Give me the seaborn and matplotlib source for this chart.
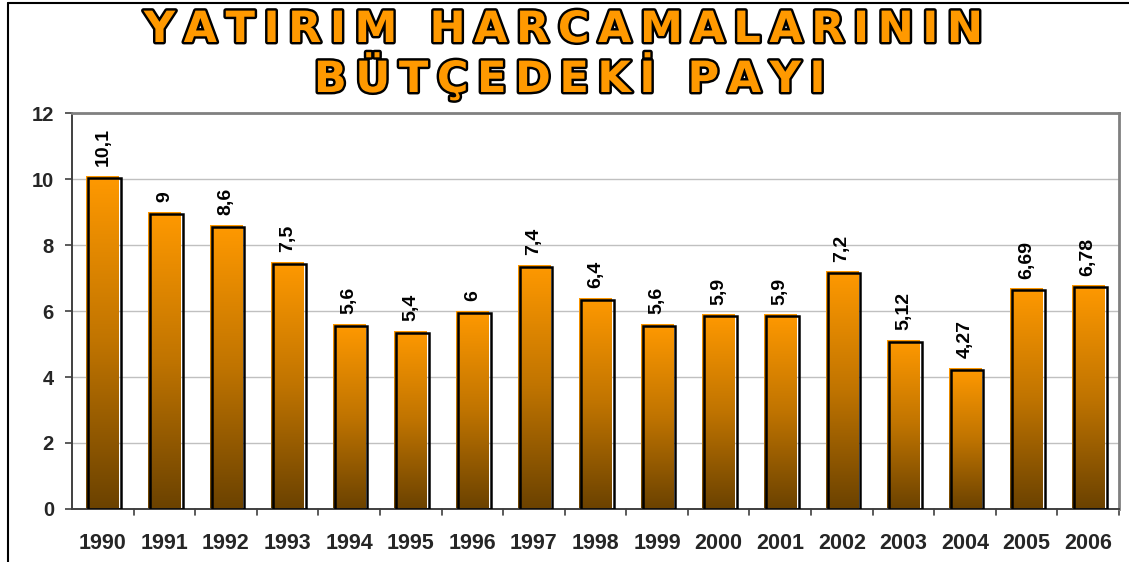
import numpy as np
import pandas as pd
import matplotlib
matplotlib.use("Agg")
import matplotlib.pyplot as plt
import matplotlib.patheffects as pe
from matplotlib.colors import LinearSegmentedColormap
from matplotlib.patches import Rectangle
from matplotlib.lines import Line2D
import seaborn as sns

# --- Data ---
years = ["1990", "1991", "1992", "1993", "1994", "1995", "1996", "1997", "1998",
         "1999", "2000", "2001", "2002", "2003", "2004", "2005", "2006"]
shares = [10.1, 9, 8.6, 7.5, 5.6, 5.4, 6, 7.4, 6.4, 5.6, 5.9, 5.9, 7.2, 5.12, 4.27, 6.69, 6.78]
value_labels = ["10,1", "9", "8,6", "7,5", "5,6", "5,4", "6", "7,4", "6,4", "5,6",
                "5,9", "5,9", "7,2", "5,12", "4,27", "6,69", "6,78"]
yticks = [0, 2, 4, 6, 8, 10, 12]
title_lines = ["YATIRIM HARCAMALARININ", "BÜTÇEDEKİ PAYI"]

df = pd.DataFrame({"year": years, "share": shares})

sns.set_style("white")
plt.rcParams['font.family'] = ['Liberation Sans', 'DejaVu Sans']

W, H = 1129, 562
fig = plt.figure(figsize=(W / 100, H / 100), dpi=100)
ax = fig.add_axes([72 / W, 1 - 509 / H, (1119 - 72) / W, (509 - 113) / H])

sns.barplot(data=df, x="year", y="share", color="#FF9900", width=0.53,
            saturation=1, ax=ax, zorder=2)

# --- Gradient fill + offset outline per bar ---
grad = LinearSegmentedColormap.from_list("bar", ["#6B4200", "#C07400", "#FF9900"])
gimg = np.linspace(0, 1, 256).reshape(-1, 1)
dx = 2 / 61.6
dy = 2 * 12 / 396
for p in list(ax.patches):
    x0, w, h = p.get_x(), p.get_width(), p.get_height()
    p.set_facecolor("none")
    p.set_edgecolor("none")
    im = ax.imshow(gimg, cmap=grad, aspect="auto", origin="lower",
                   extent=[x0, x0 + w, 0, h], zorder=2)
    im.set_clip_path(p)
    ax.add_patch(Rectangle((x0 + dx, 0), w, h - dy, fill=False,
                           edgecolor="black", linewidth=1.8, zorder=3))

ax.set_xlim(-0.5, len(years) - 0.5)
ax.set_ylim(0, 12)

# --- Value labels ---
for i, (v, lab) in enumerate(zip(shares, value_labels)):
    ax.annotate(lab, (i, v), xytext=(0, 7), textcoords="offset points",
                rotation=90, ha="center", va="bottom", fontsize=14,
                fontweight="bold", color="black", zorder=4)

# --- Axes styling ---
ax.set_yticks(yticks)
ax.set_yticklabels([str(t) for t in yticks], fontsize=14.5, fontweight="bold")
ax.set_xticks(range(len(years)))
ax.set_xticklabels(years, fontsize=15.5, fontweight="bold")
ax.tick_params(axis="x", length=0, pad=17)
ax.tick_params(axis="y", length=5, width=1.2, color="#404040", direction="out", pad=8, left=True)
for b in np.arange(-0.5, len(years), 1.0)[1:]:
    ax.plot([b, b], [0, -0.18], color="#404040", lw=1.2, clip_on=False, zorder=1)
ax.set_xlabel("")
ax.set_ylabel("")
ax.grid(axis="y", color="#C0C0C0", linewidth=1)
ax.set_axisbelow(True)
ax.spines["left"].set_color("#404040")
ax.spines["bottom"].set_color("#404040")
ax.spines["left"].set_linewidth(1.4)
ax.spines["bottom"].set_linewidth(1.4)
ax.spines["top"].set_color("#808080")
ax.spines["right"].set_color("#808080")
ax.spines["top"].set_linewidth(2)
ax.spines["right"].set_linewidth(2)
for s in ax.spines.values():
    s.set_visible(True)

# --- Title (letter-spaced with thin spaces to mimic the wide display face) ---
def spaced(t):
    return "\u2009".join(t)

title_style = dict(ha="center", va="center", fontsize=31, fontweight="bold",
                   color="#FF9900", family=["DejaVu Sans"],
                   path_effects=[pe.withStroke(linewidth=3.5, foreground="black")])
fig.text(564 / W, 1 - 30 / H, spaced(title_lines[0]), **title_style)
fig.text(570 / W, 1 - 77 / H, spaced(title_lines[1]), **title_style)

# --- Outer frame ---
fig.add_artist(Line2D([8 / W, 8 / W], [0, 1 - 3 / H], color="black", lw=1.5))
fig.add_artist(Line2D([8 / W, 1], [1 - 3 / H, 1 - 3 / H], color="black", lw=1.5))

fig.savefig("out.png", dpi=100)
